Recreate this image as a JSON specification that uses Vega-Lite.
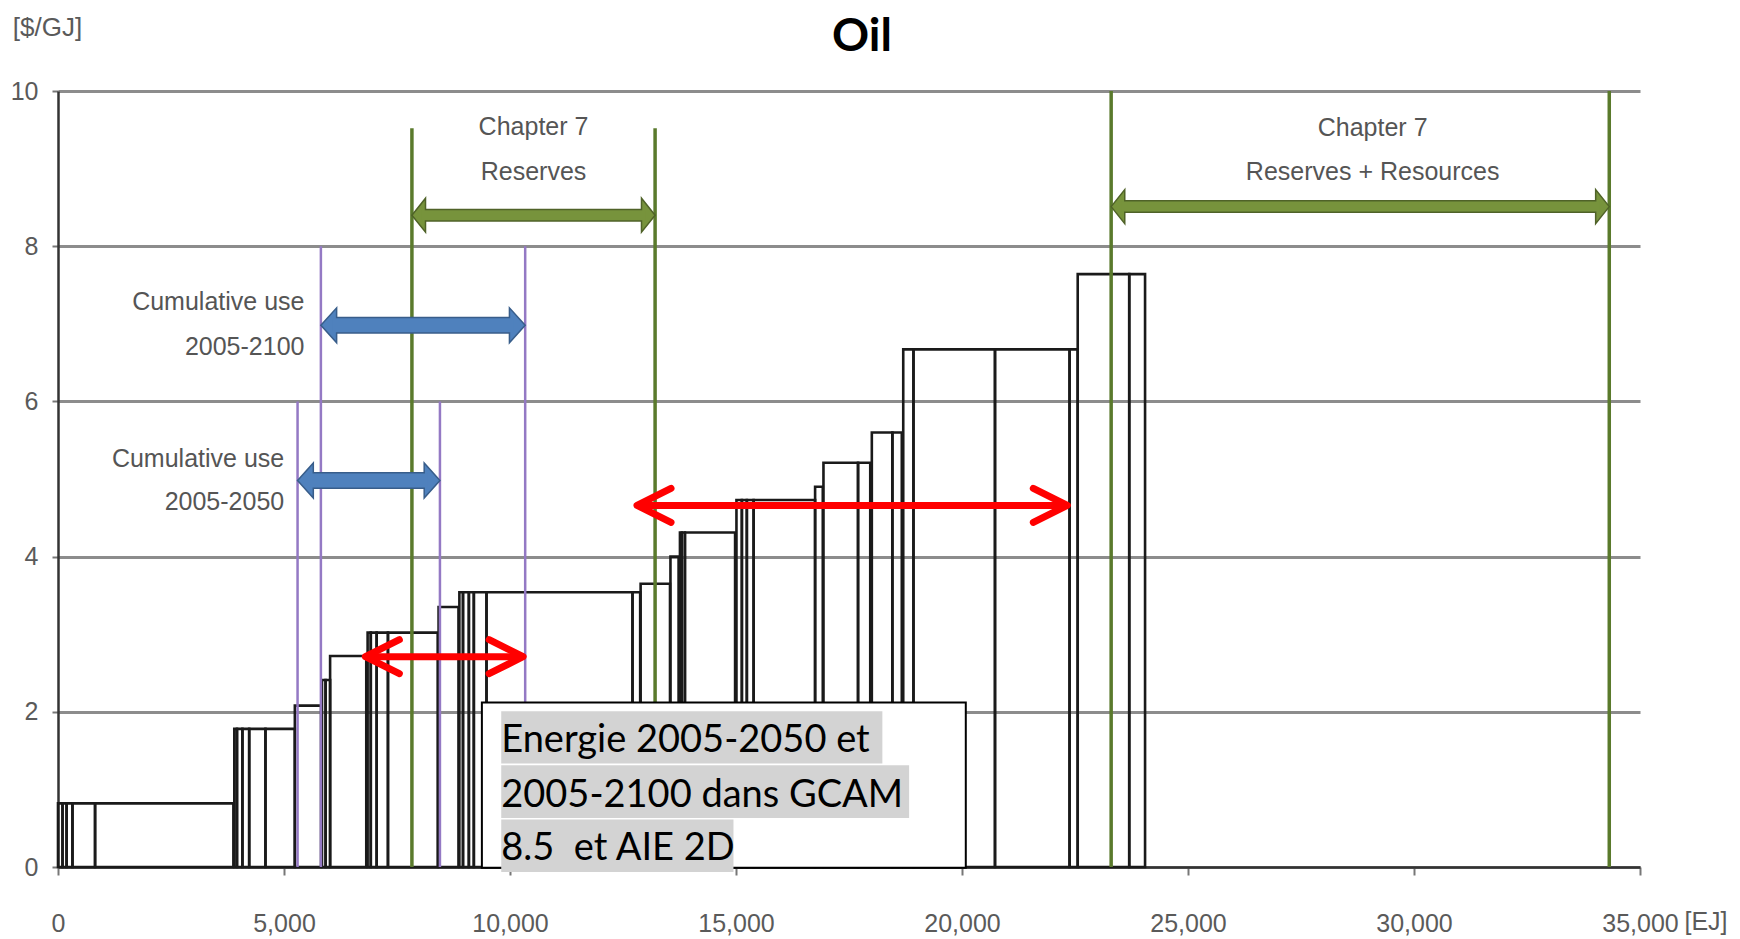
{
  "$schema": "https://vega.github.io/schema/vega-lite/v6.json",
  "width": 1582,
  "height": 776,
  "autosize": {"type": "none"},
  "padding": {"left": 58, "top": 91, "right": 100, "bottom": 72},
  "background": "white",
  "config": {"view": {"stroke": null}, "font": "Liberation Sans, sans-serif"},
  "title": {"text": "Oil", "font": "Lato", "fontSize": 46, "fontWeight": "bold", "color": "#000000", "anchor": "middle", "frame": "group", "dx": 13, "baseline": "alphabetic", "offset": -83},
  "datasets": {
    "blocks": [
      {"x0": 0, "x1": 100, "price": 0.82}, {"x0": 100, "x1": 190, "price": 0.82}, {"x0": 190, "x1": 320, "price": 0.82}, {"x0": 320, "x1": 820, "price": 0.82}, {"x0": 820, "x1": 3880, "price": 0.82},
      {"x0": 3900, "x1": 3960, "price": 1.78}, {"x0": 3960, "x1": 4080, "price": 1.78}, {"x0": 4080, "x1": 4230, "price": 1.78}, {"x0": 4230, "x1": 4590, "price": 1.78}, {"x0": 4590, "x1": 5240, "price": 1.78},
      {"x0": 5240, "x1": 5820, "price": 2.08},
      {"x0": 5840, "x1": 5920, "price": 2.41}, {"x0": 5920, "x1": 6020, "price": 2.41},
      {"x0": 6020, "x1": 6820, "price": 2.72},
      {"x0": 6850, "x1": 6920, "price": 3.02}, {"x0": 6920, "x1": 7050, "price": 3.02}, {"x0": 7050, "x1": 7300, "price": 3.02}, {"x0": 7300, "x1": 8400, "price": 3.02},
      {"x0": 8420, "x1": 8860, "price": 3.35},
      {"x0": 8880, "x1": 8960, "price": 3.54}, {"x0": 8960, "x1": 9090, "price": 3.54}, {"x0": 9090, "x1": 9200, "price": 3.54}, {"x0": 9200, "x1": 9480, "price": 3.54}, {"x0": 9480, "x1": 12710, "price": 3.54}, {"x0": 12710, "x1": 12880, "price": 3.54},
      {"x0": 12890, "x1": 13540, "price": 3.65},
      {"x0": 13550, "x1": 13730, "price": 4.0},
      {"x0": 13760, "x1": 13800, "price": 4.31}, {"x0": 13800, "x1": 13870, "price": 4.31}, {"x0": 13870, "x1": 14980, "price": 4.31},
      {"x0": 15010, "x1": 15130, "price": 4.73}, {"x0": 15130, "x1": 15240, "price": 4.73}, {"x0": 15240, "x1": 15390, "price": 4.73}, {"x0": 15390, "x1": 16750, "price": 4.73},
      {"x0": 16750, "x1": 16920, "price": 4.9},
      {"x0": 16935, "x1": 17700, "price": 5.21}, {"x0": 17700, "x1": 17970, "price": 5.21},
      {"x0": 18005, "x1": 18460, "price": 5.6}, {"x0": 18460, "x1": 18668, "price": 5.6},
      {"x0": 18700, "x1": 18926, "price": 6.67}, {"x0": 18926, "x1": 20730, "price": 6.67}, {"x0": 20730, "x1": 22380, "price": 6.67}, {"x0": 22380, "x1": 22560, "price": 6.67},
      {"x0": 22560, "x1": 23700, "price": 7.64}, {"x0": 23700, "x1": 24050, "price": 7.64}
    ],
    "verticals": [
      {"x": 5300, "top": 6, "set": "use"}, {"x": 5816, "top": 8, "set": "use"}, {"x": 8450, "top": 6, "set": "use"}, {"x": 10336, "top": 8, "set": "use"},
      {"x": 7830, "top": 9.52, "set": "ch7"}, {"x": 13210, "top": 9.52, "set": "ch7"}, {"x": 23300, "top": 10, "set": "ch7"}, {"x": 34320, "top": 10, "set": "ch7"}
    ],
    "bigArrows": [
      {"x0": 7830, "x1": 13210, "y": 8.4, "set": "ch7"},
      {"x0": 23300, "x1": 34320, "y": 8.51, "set": "ch7"},
      {"x0": 5816, "x1": 10336, "y": 6.98, "set": "use"},
      {"x0": 5300, "x1": 8450, "y": 4.98, "set": "use"}
    ],
    "redArrows": [
      {"x0": 6800, "x1": 10290, "y": 2.71},
      {"x0": 12810, "x1": 22330, "y": 4.66}
    ],
    "notes": [
      {"text": "Chapter 7", "x": 10520, "y": 9.54, "set": "ch7"},
      {"text": "Reserves", "x": 10520, "y": 8.96, "set": "ch7"},
      {"text": "Chapter 7", "x": 29085, "y": 9.52, "set": "ch7"},
      {"text": "Reserves + Resources", "x": 29085, "y": 8.96, "set": "ch7"},
      {"text": "Cumulative use", "x": 5453, "y": 7.28, "set": "use"},
      {"text": "2005-2100", "x": 5453, "y": 6.7, "set": "use"},
      {"text": "Cumulative use", "x": 5005, "y": 5.26, "set": "use"},
      {"text": "2005-2050", "x": 5005, "y": 4.71, "set": "use"}
    ],
    "box": [{"x0": 9378, "x1": 20084, "y0": -0.01, "y1": 2.12}],
    "boxLines": [
      {"text": "Energie 2005-2050 et", "x0": 9806, "x1": 18238, "y0": 1.333, "y1": 2.007, "ytext": 1.483},
      {"text": "2005-2100 dans GCAM", "x0": 9806, "x1": 18830, "y0": 0.632, "y1": 1.311, "ytext": 0.773},
      {"text": "8.5\u00a0 et AIE 2D", "x0": 9806, "x1": 14944, "y0": -0.064, "y1": 0.611, "ytext": 0.086}
    ]
  },
  "layer": [
    {
      "data": {"name": "blocks"},
      "mark": {"type": "rect", "fill": "white", "fillOpacity": 0, "stroke": "#1a1a1a", "strokeWidth": 2.6},
      "encoding": {
        "x": {"field": "x0", "type": "quantitative", "scale": {"domain": [0, 35000]},
          "axis": {"values": [0, 5000, 10000, 15000, 20000, 25000, 30000, 35000], "format": ",.0f", "grid": false, "domainColor": "#333333", "domainWidth": 2.5, "tickColor": "#777777", "tickSize": 8, "tickWidth": 2, "labelFontSize": 25, "labelColor": "#5a5a5a", "labelPadding": 48, "labelBaseline": "middle", "labelFlush": false, "labelOverlap": false, "title": "[EJ]", "titleFontSize": 25, "titleFontWeight": "normal", "titleColor": "#5a5a5a", "titleX": 1626, "titleY": 54, "titleAlign": "left", "titleBaseline": "middle"}},
        "x2": {"field": "x1"},
        "y": {"field": "price", "type": "quantitative", "scale": {"domain": [0, 10]},
          "axis": {"values": [0, 2, 4, 6, 8, 10], "format": "d", "grid": true, "gridColor": "#8c8c8c", "gridWidth": 3, "domainColor": "#333333", "domainWidth": 2.5, "tickColor": "#777777", "tickSize": 6, "tickWidth": 2, "labelFontSize": 25, "labelColor": "#5a5a5a", "labelPadding": 14, "title": "[$/GJ]", "titleAngle": 0, "titleX": -11, "titleY": -64, "titleAlign": "center", "titleBaseline": "middle", "titleFontSize": 26, "titleFontWeight": "normal", "titleColor": "#5a5a5a"}},
        "y2": {"datum": 0}
      }
    },
    {
      "data": {"name": "verticals"},
      "transform": [{"filter": "datum.set === 'use'"}],
      "mark": {"type": "rule", "stroke": "#9479c4", "strokeWidth": 2.5},
      "encoding": {"x": {"field": "x", "type": "quantitative"}, "y": {"field": "top", "type": "quantitative"}, "y2": {"datum": 0}}
    },
    {
      "data": {"name": "verticals"},
      "transform": [{"filter": "datum.set === 'ch7'"}],
      "mark": {"type": "rule", "stroke": "#5a7a2c", "strokeWidth": 3.5},
      "encoding": {"x": {"field": "x", "type": "quantitative"}, "y": {"field": "top", "type": "quantitative"}, "y2": {"datum": 0}}
    },
    {
      "data": {"name": "bigArrows"},
      "transform": [{"filter": "datum.set === 'ch7'"}],
      "mark": {"type": "rule", "stroke": "#4f6228", "strokeWidth": 13, "xOffset": 12, "x2Offset": -12},
      "encoding": {"x": {"field": "x0", "type": "quantitative"}, "x2": {"field": "x1"}, "y": {"field": "y", "type": "quantitative"}}
    },
    {
      "data": {"name": "bigArrows"},
      "transform": [{"filter": "datum.set === 'ch7'"}],
      "mark": {"type": "point", "shape": "M0,0L0.8,-1L0.8,1Z", "size": 1156, "filled": true, "fill": "#77933c", "stroke": "#4f6228", "strokeWidth": 1.5, "opacity": 1},
      "encoding": {"x": {"field": "x0", "type": "quantitative"}, "y": {"field": "y", "type": "quantitative"}}
    },
    {
      "data": {"name": "bigArrows"},
      "transform": [{"filter": "datum.set === 'ch7'"}],
      "mark": {"type": "point", "shape": "M0,0L-0.8,-1L-0.8,1Z", "size": 1156, "filled": true, "fill": "#77933c", "stroke": "#4f6228", "strokeWidth": 1.5, "opacity": 1},
      "encoding": {"x": {"field": "x1", "type": "quantitative"}, "y": {"field": "y", "type": "quantitative"}}
    },
    {
      "data": {"name": "bigArrows"},
      "transform": [{"filter": "datum.set === 'ch7'"}],
      "mark": {"type": "rule", "stroke": "#77933c", "strokeWidth": 10, "xOffset": 10, "x2Offset": -10},
      "encoding": {"x": {"field": "x0", "type": "quantitative"}, "x2": {"field": "x1"}, "y": {"field": "y", "type": "quantitative"}}
    },
    {
      "data": {"name": "bigArrows"},
      "transform": [{"filter": "datum.set === 'use'"}],
      "mark": {"type": "rule", "stroke": "#385d8a", "strokeWidth": 17, "xOffset": 14, "x2Offset": -14},
      "encoding": {"x": {"field": "x0", "type": "quantitative"}, "x2": {"field": "x1"}, "y": {"field": "y", "type": "quantitative"}}
    },
    {
      "data": {"name": "bigArrows"},
      "transform": [{"filter": "datum.set === 'use'"}],
      "mark": {"type": "point", "shape": "M0,0L0.9,-1L0.9,1Z", "size": 1225, "filled": true, "fill": "#4f81bd", "stroke": "#385d8a", "strokeWidth": 1.5, "opacity": 1},
      "encoding": {"x": {"field": "x0", "type": "quantitative"}, "y": {"field": "y", "type": "quantitative"}}
    },
    {
      "data": {"name": "bigArrows"},
      "transform": [{"filter": "datum.set === 'use'"}],
      "mark": {"type": "point", "shape": "M0,0L-0.9,-1L-0.9,1Z", "size": 1225, "filled": true, "fill": "#4f81bd", "stroke": "#385d8a", "strokeWidth": 1.5, "opacity": 1},
      "encoding": {"x": {"field": "x1", "type": "quantitative"}, "y": {"field": "y", "type": "quantitative"}}
    },
    {
      "data": {"name": "bigArrows"},
      "transform": [{"filter": "datum.set === 'use'"}],
      "mark": {"type": "rule", "stroke": "#4f81bd", "strokeWidth": 14, "xOffset": 12, "x2Offset": -12},
      "encoding": {"x": {"field": "x0", "type": "quantitative"}, "x2": {"field": "x1"}, "y": {"field": "y", "type": "quantitative"}}
    },
    {
      "data": {"name": "notes"},
      "transform": [{"filter": "datum.set === 'ch7'"}],
      "mark": {"type": "text", "fontSize": 25, "color": "#555555", "align": "center", "baseline": "middle"},
      "encoding": {"x": {"field": "x", "type": "quantitative"}, "y": {"field": "y", "type": "quantitative"}, "text": {"field": "text"}}
    },
    {
      "data": {"name": "notes"},
      "transform": [{"filter": "datum.set === 'use'"}],
      "mark": {"type": "text", "fontSize": 25, "color": "#555555", "align": "right", "baseline": "middle"},
      "encoding": {"x": {"field": "x", "type": "quantitative"}, "y": {"field": "y", "type": "quantitative"}, "text": {"field": "text"}}
    },
    {
      "data": {"name": "redArrows"},
      "mark": {"type": "rule", "stroke": "#ff0000", "strokeWidth": 7, "xOffset": 2, "x2Offset": -2},
      "encoding": {"x": {"field": "x0", "type": "quantitative"}, "x2": {"field": "x1"}, "y": {"field": "y", "type": "quantitative"}}
    },
    {
      "data": {"name": "redArrows"},
      "mark": {"type": "point", "shape": "M1,-0.5L0,0L1,0.5", "size": 4624, "filled": false, "stroke": "#ff0000", "strokeWidth": 7, "strokeCap": "round", "strokeJoin": "round", "opacity": 1},
      "encoding": {"x": {"field": "x0", "type": "quantitative"}, "y": {"field": "y", "type": "quantitative"}}
    },
    {
      "data": {"name": "redArrows"},
      "mark": {"type": "point", "shape": "M-1,-0.5L0,0L-1,0.5", "size": 4624, "filled": false, "stroke": "#ff0000", "strokeWidth": 7, "strokeCap": "round", "strokeJoin": "round", "opacity": 1},
      "encoding": {"x": {"field": "x1", "type": "quantitative"}, "y": {"field": "y", "type": "quantitative"}}
    },
    {
      "data": {"name": "box"},
      "mark": {"type": "rect", "fill": "white", "stroke": "#000000", "strokeWidth": 2},
      "encoding": {"x": {"field": "x0", "type": "quantitative"}, "x2": {"field": "x1"}, "y": {"field": "y0", "type": "quantitative"}, "y2": {"field": "y1"}}
    },
    {
      "data": {"name": "boxLines"},
      "mark": {"type": "rect", "fill": "#d3d3d3", "strokeWidth": 0},
      "encoding": {"x": {"field": "x0", "type": "quantitative"}, "x2": {"field": "x1"}, "y": {"field": "y0", "type": "quantitative"}, "y2": {"field": "y1"}}
    },
    {
      "data": {"name": "boxLines"},
      "mark": {"type": "text", "font": "Lato", "fontSize": 38, "color": "#000000", "align": "left", "baseline": "alphabetic"},
      "encoding": {"x": {"field": "x0", "type": "quantitative"}, "y": {"field": "ytext", "type": "quantitative"}, "text": {"field": "text"}}
    }
  ]
}
